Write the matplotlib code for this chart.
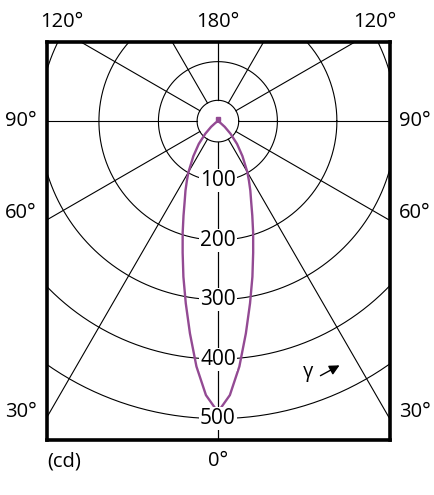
import numpy as np
import matplotlib
matplotlib.use("Agg")
import matplotlib.pyplot as plt

plt.rcParams['font.family'] = ['Open Sans', 'DejaVu Sans']

# luminous intensity (cd) vs gamma angle (deg from nadir)
gamma = [0, 2.5, 5, 7.5, 10, 12.5, 15, 17.5, 20, 22.5, 25, 27.5, 30, 35, 40, 45, 50, 55, 60]
intensity = [489, 461, 414, 360, 311, 268, 229, 197, 169, 146, 129, 113, 99, 72, 50, 30, 15, 5, 0]

rings = [100, 200, 300, 400, 500]
ring_labels = ["100", "200", "300", "400", "500"]
spokes = [0, 30, 60, 90, 120, 150, 180]
inner_r = 35

fig = plt.figure(figsize=(4.35, 4.95), dpi=100)
ax = fig.add_axes([47 / 435, 55 / 495, 343 / 435, 398 / 495])
ax.set_xlim(-287, 289)
ax.set_ylim(-536, 133)
ax.set_aspect('equal')
ax.set_xticks([])
ax.set_yticks([])
for s in ax.spines.values():
    s.set_linewidth(2.6)

t = np.linspace(0, 2 * np.pi, 400)
for r in [inner_r] + rings:
    ax.plot(r * np.cos(t), r * np.sin(t), color='black', lw=0.8, zorder=1)

for a in spokes:
    rad = np.radians(a)
    for sgn in (-1, 1):
        x0, y0 = sgn * inner_r * np.sin(rad), -inner_r * np.cos(rad)
        x1, y1 = sgn * 1000 * np.sin(rad), -1000 * np.cos(rad)
        ax.plot([x0, x1], [y0, y1], color='black', lw=0.8, zorder=1)

# intensity curve, mirrored on both sides
g = np.radians(np.array(gamma))
I = np.array(intensity)
xr = I * np.sin(g)
yr = -I * np.cos(g)
xs = np.concatenate([-xr[::-1], xr[1:]])
ys = np.concatenate([yr[::-1], yr[1:]])
ax.plot(xs, ys, color='#934a93', lw=1.7, zorder=3, solid_joinstyle='round')
ax.plot([0], [4], marker='s', ms=3.5, color='#934a93', zorder=3)

for r, lab in zip(rings, ring_labels):
    ax.text(0, -r, lab, ha='center', va='center', fontsize=15,
            bbox=dict(boxstyle='square,pad=0.05', fc='white', ec='none'), zorder=4)

def ftext(x, y, s, **kw):
    fig.text(x / 435, 1 - y / 495, s, ha='center', va='center', fontsize=14.5, **kw)

ftext(62, 22, "120°")
ftext(218, 22, "180°")
ftext(375, 22, "120°")
ftext(21, 121, "90°")
ftext(415, 121, "90°")
ftext(21, 213, "60°")
ftext(415, 213, "60°")
ftext(21, 412, "30°")
ftext(415, 412, "30°")
ftext(218, 461, "0°")
ftext(64, 461, "(cd)")
ftext(308, 372, "γ")

fig.patches.append(matplotlib.patches.FancyArrowPatch(
    (318 / 435, 1 - 377 / 495), (342 / 435, 1 - 364 / 495),
    transform=fig.transFigure, arrowstyle='-|>,head_length=6,head_width=3',
    color='black', lw=1))

fig.savefig("out.png", dpi=100)
